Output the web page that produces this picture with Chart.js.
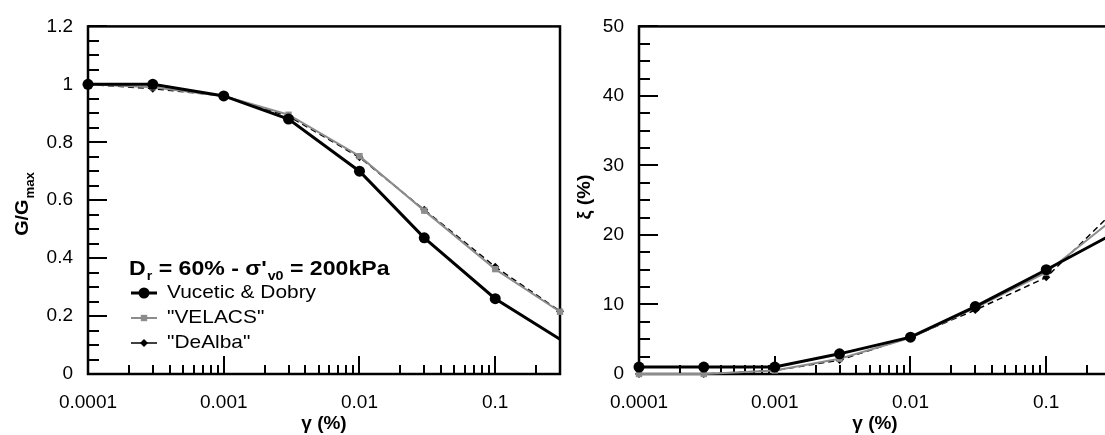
<!DOCTYPE html>
<html>
<head>
<meta charset="utf-8">
<script src="https://cdn.jsdelivr.net/npm/chart.js@4.4.1/dist/chart.umd.min.js"></script>
<style>
  html, body { margin:0; padding:0; background:#fff; width:1105px; height:435px; overflow:hidden; }
  #w1 { position:absolute; left:0; top:0; width:570px; height:435px; }
  #w2 { position:absolute; left:570px; top:0; width:551px; height:435px; }
</style>
</head>
<body>
<div id="w1"><canvas id="c1" width="570" height="435"></canvas></div>
<div id="w2"><canvas id="c2" width="551" height="435"></canvas></div>
<script>
// ---- data ----
const gammaPct = [0.0001, 0.0003, 0.001, 0.003, 0.01, 0.03, 0.1, 0.3];
const ggmaxVucetic = [1.0, 1.0, 0.96, 0.88, 0.70, 0.47, 0.26, 0.12];
const ggmaxVelacs  = [1.0, 0.99, 0.96, 0.895, 0.752, 0.564, 0.362, 0.215];
const ggmaxDeAlba  = [1.0, 0.985, 0.96, 0.89, 0.748, 0.567, 0.37, 0.217];
const dampVucetic  = [1, 1, 1, 2.9, 5.3, 9.7, 15.0, 20.0];
const dampVelacs   = [0, 0, 0.5, 2.2, 5.2, 9.5, 14.6, 22.0];
const dampDeAlba   = [0, 0, 0.5, 2.0, 5.3, 9.2, 13.9, 23.0];
const seriesNames  = ['Vucetic & Dobry', '"VELACS"', '"DeAlba"'];
const xTickValues  = [0.0001, 0.001, 0.01, 0.1];
const xTickLabels  = ['0.0001', '0.001', '0.01', '0.1'];
const yTicksLeft   = [0, 0.2, 0.4, 0.6, 0.8, 1, 1.2];
const yTicksRight  = [0, 10, 20, 30, 40, 50];

const FONT = '"Liberation Sans", Arial, sans-serif';
const STRETCH = 1.1;
const styles = [
  { borderColor:'#000', backgroundColor:'#000', borderWidth:3, pointStyle:'circle', pointRadius:5.5, borderDash:[] },
  { borderColor:'#8c8c8c', backgroundColor:'#8c8c8c', borderWidth:2, pointStyle:'rect', pointRadius:4.5, borderDash:[] },
  { borderColor:'#000', backgroundColor:'#000', borderWidth:1.5, pointStyle:'rectRot', pointRadius:4, borderDash:[6,4] }
];

function pts(ys){ return gammaPct.map((x,i)=>({x:x, y:ys[i]})); }

function makeDatasets(arrs, hideLastBlack){
  return arrs.map((a,i)=>{
    const s = styles[i];
    return {
      label: seriesNames[i],
      data: pts(a),
      borderColor: s.borderColor,
      backgroundColor: s.backgroundColor,
      pointBackgroundColor: s.backgroundColor,
      pointBorderColor: s.borderColor,
      pointBorderWidth: 0,
      borderWidth: s.borderWidth,
      borderDash: s.borderDash,
      pointStyle: s.pointStyle,
      pointRadius: (ctx)=> (hideLastBlack && i===0 && ctx.dataIndex===gammaPct.length-1) ? 0 : s.pointRadius,
      tension: 0,
      clip: false
    };
  });
}

function minorLog(min, max){
  const out = [];
  for (let e=-4; e<=0; e++){
    for (let m=1; m<=9; m++){
      const v = m*Math.pow(10,e);
      if (v>=min*0.999 && v<=max*1.001) out.push({v:v, major:m===1});
    }
  }
  return out;
}

// draw text stretched horizontally, returns drawn width
function sText(ctx, txt, x, y){
  ctx.save();
  ctx.translate(x, y);
  ctx.scale(STRETCH, 1);
  ctx.fillText(txt, 0, 0);
  ctx.restore();
  return ctx.measureText(txt).width * STRETCH;
}

const framePlugin = {
  id:'frame',
  beforeDatasetsDraw(chart, args, opts){
    const {ctx, chartArea:a} = chart;
    const xs = chart.scales.x, ys = chart.scales.y;
    ctx.save();
    ctx.strokeStyle = '#000';
    ctx.lineWidth = 2;
    ctx.beginPath();
    for (let v=ys.min; v<=ys.max+1e-9; v+=opts.yMinor){
      const idx = Math.round((v-ys.min)/opts.yMinor);
      const major = idx % opts.yMajorEvery === 0;
      const py = Math.round(ys.getPixelForValue(v));
      ctx.moveTo(a.left, py);
      ctx.lineTo(a.left + (major?19:11), py);
    }
    minorLog(xs.min, xs.max).forEach(t=>{
      const px = Math.round(xs.getPixelForValue(t.v));
      ctx.moveTo(px, a.bottom);
      ctx.lineTo(px, a.bottom - (t.major?18:9));
    });
    ctx.stroke();
    ctx.lineWidth = 2.5;
    ctx.strokeRect(a.left, a.top, a.right-a.left, a.bottom-a.top);
    // rotated y title with optional subscript
    ctx.translate(opts.titleX, opts.titleY);
    ctx.rotate(-Math.PI/2);
    ctx.fillStyle = '#000';
    ctx.textBaseline = 'alphabetic';
    const main = opts.title, sub = opts.titleSub || '';
    ctx.font = 'bold 18px ' + FONT;
    const w1 = ctx.measureText(main).width * STRETCH;
    ctx.font = 'bold 12px ' + FONT;
    const w2 = sub ? ctx.measureText(sub).width * STRETCH + 1 : 0;
    const x0 = -(w1+w2)/2;
    ctx.font = 'bold 18px ' + FONT;
    sText(ctx, main, x0, 6);
    if (sub){
      ctx.font = 'bold 12px ' + FONT;
      sText(ctx, sub, x0+w1+1, 12);
    }
    ctx.restore();
  }
};

const legendPlugin = {
  id:'customLegend',
  afterDatasetsDraw(chart, args, opts){
    if (!opts.show) return;
    const ctx = chart.ctx;
    ctx.save();
    ctx.fillStyle = '#000';
    ctx.textBaseline = 'alphabetic';
    const parts = [['D','b'],['r','s'],[' = 60% - σ\'','b'],['v0','s'],[' = 200kPa','b']];
    let x = 129, y = 275;
    parts.forEach(p=>{
      if (p[1]==='b'){ ctx.font='bold 21px '+FONT; x += sText(ctx, p[0], x, y); }
      else { ctx.font='bold 13px '+FONT; x += sText(ctx, p[0], x+1, y+5) + 1; }
    });
    const rows = [293, 318, 343];
    chart.data.datasets.forEach((ds,i)=>{
      const s = styles[i];
      const yy = rows[i];
      ctx.strokeStyle = s.borderColor;
      ctx.lineWidth = s.borderWidth;
      ctx.beginPath(); ctx.moveTo(131, yy); ctx.lineTo(157, yy); ctx.stroke();
      ctx.fillStyle = s.backgroundColor;
      Chart.helpers.drawPoint(ctx, {pointStyle:s.pointStyle, radius:s.pointRadius, borderWidth:0, rotation:0}, 144, yy);
      ctx.fillStyle = '#000';
      ctx.font = '19px ' + FONT;
      ctx.textBaseline = 'middle';
      sText(ctx, ds.label, 167, yy);
      ctx.textBaseline = 'alphabetic';
    });
    ctx.restore();
  }
};

function makeChart(id, arrs, yMax, yTicks, yOpts, axisW, showLegend){
  return new Chart(document.getElementById(id), {
    type:'line',
    data:{ datasets: makeDatasets(arrs, showLegend) },
    plugins:[framePlugin, legendPlugin],
    options:{
      responsive:false,
      animation:false,
      layout:{ padding:{ left:0, top:23, right:10, bottom:0 } },
      plugins:{ legend:{display:false}, tooltip:{enabled:false},
        frame: yOpts, customLegend:{ show: showLegend } },
      scales:{
        x:{
          type:'logarithmic', min:0.0001, max:0.3,
          grid:{ display:false, drawTicks:false },
          border:{ display:false },
          afterBuildTicks:(sc)=>{ sc.ticks = xTickValues.map(v=>({value:v})); },
          afterFit:(sc)=>{ sc.height = 61; },
          ticks:{ autoSkip:false, maxRotation:0, padding:17, color:'#000',
                  font:{ family:FONT, size:19 },
                  callback:(v)=>{ const k = xTickValues.findIndex(t=>Math.abs(t-v)/t<1e-6); return k>=0 ? xTickLabels[k] : ''; } },
          title:{ display:true, text:'γ (%)', color:'#000', padding:{top:0,bottom:0},
                  font:{ family:FONT, size:19, weight:'bold' } }
        },
        y:{
          type:'linear', min:0, max:yMax,
          grid:{ display:false, drawTicks:false },
          border:{ display:false },
          afterBuildTicks:(sc)=>{ sc.ticks = yTicks.map(v=>({value:v})); },
          afterFit:(sc)=>{ sc.width = axisW; },
          ticks:{ padding:15, color:'#000', font:{ family:FONT, size:19 },
                  callback:(v)=> String(Number(v.toFixed(2))) }
        }
      }
    }
  });
}

makeChart('c1', [ggmaxVucetic, ggmaxVelacs, ggmaxDeAlba], 1.2, yTicksLeft,
  { yMinor:0.05, yMajorEvery:4, titleX:22, titleY:204, title:'G/G', titleSub:'max' }, 88, true);
makeChart('c2', [dampVucetic, dampVelacs, dampDeAlba], 50, yTicksRight,
  { yMinor:2.5, yMajorEvery:4, titleX:14, titleY:197, title:'ξ (%)', titleSub:'' }, 69, false);
</script>
</body>
</html>
